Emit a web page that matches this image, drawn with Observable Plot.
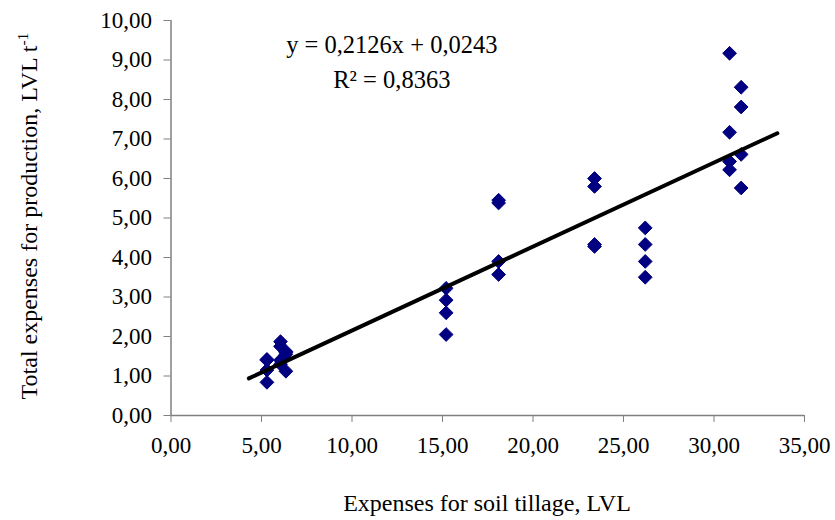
<!DOCTYPE html>
<html><head><meta charset="utf-8">
<script src="https://cdn.jsdelivr.net/npm/d3@7"></script>
<script src="https://cdn.jsdelivr.net/npm/@observablehq/plot@0.6"></script>
<style>body{margin:0;background:#fff}</style>
</head><body><div id="chart"></div>
<script>
// Data
const tillage = [5.3, 5.3, 5.3, 5.3, 6.05, 6.05, 6.05, 6.05, 6.35, 6.35, 6.35, 6.35,
  15.2, 15.2, 15.2, 15.2, 18.1, 18.1, 18.1, 18.1, 23.4, 23.4, 23.4, 23.4,
  26.2, 26.2, 26.2, 26.2, 30.86, 30.86, 30.86, 30.86, 31.5, 31.5, 31.5, 31.5];
const totalExpenses = [1.42, 1.15, 0.84, 1.40, 1.87, 1.75, 1.40, 1.30, 1.62, 1.55, 1.12, 1.60,
  3.22, 2.92, 2.60, 2.05, 5.45, 5.38, 3.90, 3.57, 6.00, 5.80, 4.33, 4.28,
  4.75, 4.33, 3.90, 3.50, 9.17, 7.17, 6.43, 6.22, 8.31, 7.81, 6.61, 5.76];
const slope = 0.2126, intercept = 0.0243;
const trendRange = [4.3, 33.5];
const xTicks = [0, 5, 10, 15, 20, 25, 30, 35];
const yTicks = [0, 1, 2, 3, 4, 5, 6, 7, 8, 9, 10];
const eqText = "y = 0,2126x + 0,0243";
const r2Text = "R\u00B2 = 0,8363";
const xTitle = "Expenses for soil tillage, LVL";
const yTitle = "Total expenses for production, LVL t";
const yTitleSup = "-1";

const points = tillage.map((x, i) => ({x, y: totalExpenses[i]}));
const trend = trendRange.map(x => ({x, y: slope * x + intercept}));
const fmt = d => d.toFixed(2).replace(".", ",");
const serif = "'Liberation Serif', 'Times New Roman', serif";

const chart = Plot.plot({
  width: 835, height: 520,
  marginLeft: 170.5, marginRight: 31, marginTop: 20, marginBottom: 105,
  style: {fontFamily: serif, fontSize: "23px", background: "#fff", color: "#000"},
  x: {domain: [0, 35]},
  y: {domain: [0, 10]},
  marks: [
    Plot.axisX({ticks: xTicks, tickFormat: fmt, tickSize: 7, tickPadding: 14, stroke: "#808080", label: null}),
    Plot.axisY({ticks: yTicks, tickFormat: fmt, tickSize: 7, tickPadding: 12, stroke: "#808080", label: null}),
    Plot.ruleY([0], {stroke: "#808080", strokeWidth: 1.5}),
    Plot.ruleX([0], {stroke: "#808080", strokeWidth: 1.5}),
    Plot.dot(points, {x: "x", y: "y", symbol: "diamond2", r: 6.2, fill: "#000080", stroke: "#000080", strokeWidth: 1}),
    Plot.line(trend, {x: "x", y: "y", stroke: "#000", strokeWidth: 4}),
    Plot.text([eqText], {x: 12.2, y: 9.37, text: d => d, fontSize: 24.5, fill: "#000"}),
    Plot.text([r2Text], {x: 12.2, y: 8.48, text: d => d, fontSize: 24.5, fill: "#000"})
  ]
});

const svg = d3.select(chart);
svg.append("text")
  .attr("x", 487).attr("y", 511)
  .attr("text-anchor", "middle")
  .attr("font-family", serif).attr("font-size", 24).attr("fill", "#000")
  .text(xTitle);
const yt = svg.append("text")
  .attr("transform", "translate(37,216) rotate(-90)")
  .attr("text-anchor", "middle")
  .attr("font-family", serif).attr("font-size", 24).attr("fill", "#000");
yt.append("tspan").text(yTitle);
yt.append("tspan").attr("dy", "-0.55em").attr("font-size", "0.65em").text(yTitleSup);

document.getElementById("chart").appendChild(chart);
</script>
</body></html>
